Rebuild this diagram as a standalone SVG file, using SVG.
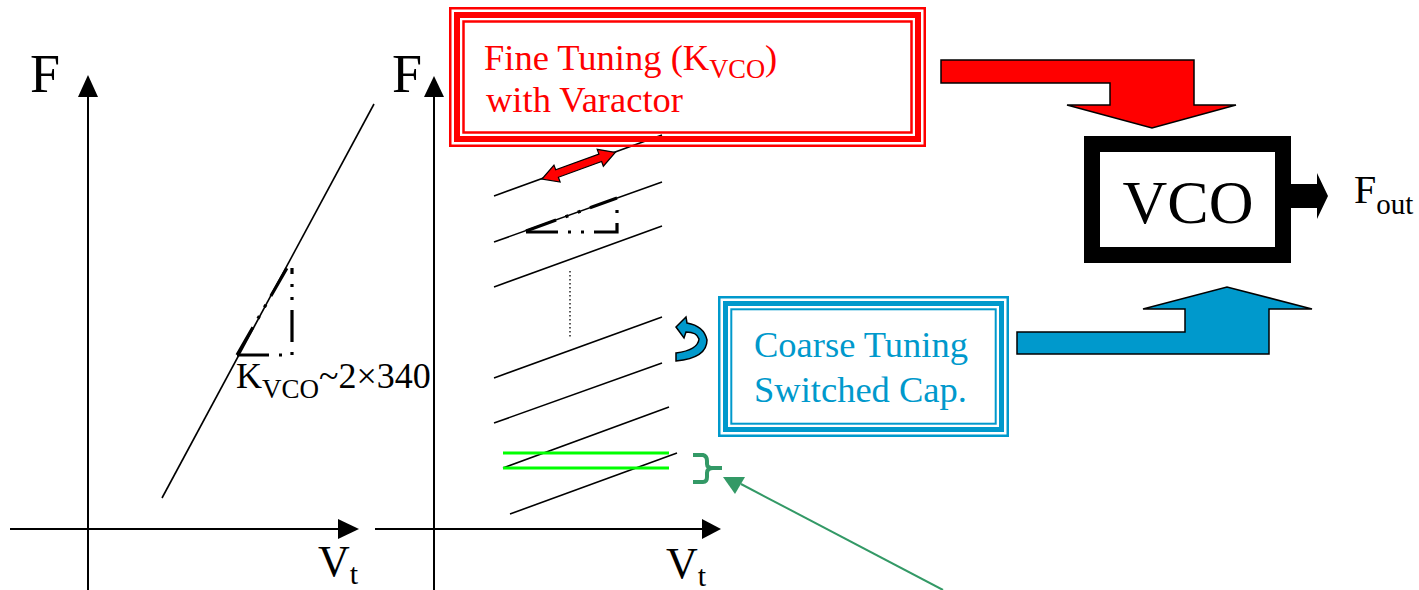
<svg xmlns="http://www.w3.org/2000/svg" width="1419" height="590" viewBox="0 0 1419 590">
<style>
  text { font-family: "Liberation Serif", "Times New Roman", serif; }
  .ax { stroke: #000; stroke-width: 2; fill: none; }
  .ln { stroke: #000; stroke-width: 1.6; fill: none; }
  .dd { stroke: #000; stroke-width: 3.2; fill: none; stroke-dasharray: 32 10 3 10 3 10; }
  .red { fill: none; stroke: #FF0000; }
  .blue { fill: none; stroke: #0099CC; }
  .rt { fill: #FF0000; font-size: 36.5px; }
  .bt { fill: #0099CC; font-size: 36.5px; }
</style>
<rect width="1419" height="590" fill="#fff"/>

<g id="graph-left">
  <line class="ax" x1="88" y1="96" x2="88" y2="590"/>
  <polygon points="88,75 78,97 98,97" fill="#000"/>
  <line class="ax" x1="10" y1="529" x2="340" y2="529"/>
  <polygon points="359,529 338,519 338,539" fill="#000"/>
  <text x="30" y="92" font-size="54">F</text>
  <text x="318" y="576" font-size="44">V<tspan font-size="30" dy="8">t</tspan></text>
  <line class="ln" x1="162" y1="498" x2="374" y2="104"/>
  <path class="dd" d="M237,355 L292,355 L292,268"/>
  <path class="dd" d="M237,355 L287,268"/>
  <text x="236" y="388" font-size="36">K<tspan font-size="27" dy="10">VCO</tspan><tspan dy="-10">~2×340</tspan></text>
</g>

<g id="graph-right">
  <line class="ax" x1="434" y1="96" x2="434" y2="590"/>
  <polygon points="434,76 424,97 444,97" fill="#000"/>
  <line class="ax" x1="375" y1="529" x2="702" y2="529"/>
  <polygon points="721,529 702,519 702,539" fill="#000"/>
  <text x="392" y="92" font-size="54">F</text>
  <text x="666" y="578" font-size="44">V<tspan font-size="30" dy="8">t</tspan></text>
  <line class="ln" x1="494" y1="196" x2="662" y2="135"/>
  <line class="ln" x1="494" y1="242" x2="662" y2="182"/>
  <line class="ln" x1="494" y1="287" x2="662" y2="226"/>
  <line x1="570" y1="271" x2="570" y2="338" stroke="#000" stroke-width="1.3" stroke-dasharray="1.5 2.5"/>
  <line class="ln" x1="494" y1="378" x2="662" y2="317"/>
  <line class="ln" x1="494" y1="423" x2="662" y2="363"/>
  <line class="ln" x1="503" y1="468" x2="669" y2="407"/>
  <line class="ln" x1="510" y1="514" x2="677" y2="453"/>
  <path class="dd" d="M526,232 L617,232 L617,200"/>
  <path class="dd" d="M526,231 L617,198"/>
  <line x1="503" y1="453" x2="669" y2="453" stroke="#00FF00" stroke-width="3"/>
  <line x1="503" y1="468" x2="669" y2="468" stroke="#00FF00" stroke-width="3"/>
</g>

<g id="fine-tuning">
  <rect class="red" x="450.25" y="8.25" width="474.5" height="137.5" stroke-width="2.5"/>
  <rect class="red" x="457" y="15" width="461" height="124" stroke-width="6"/>
  <rect class="red" x="463.5" y="21.5" width="448" height="111" stroke-width="2.5"/>
  <text class="rt" x="484" y="70">Fine Tuning (K<tspan font-size="26.5" dy="8">VCO</tspan><tspan dy="-8">)</tspan></text>
  <text class="rt" x="486" y="112">with Varactor</text>
</g>

<g id="coarse-tuning">
  <rect class="blue" x="719.25" y="297.25" width="288.5" height="138.5" stroke-width="2.5"/>
  <rect class="blue" x="725.5" y="303.5" width="276" height="126" stroke-width="5"/>
  <rect class="blue" x="731.3" y="309.3" width="264.4" height="114.4" stroke-width="2"/>
  <text class="bt" x="754" y="357">Coarse Tuning</text>
  <text class="bt" x="754" y="402">Switched Cap.</text>
</g>

<g id="vco">
  <rect x="1092" y="144" width="191" height="111" fill="#fff" stroke="#000" stroke-width="16"/>
  <text x="1188" y="223" font-size="62" text-anchor="middle">VCO</text>
</g>

<g id="fout">
  <text x="1354" y="203" font-size="40">F<tspan font-size="29" dy="11">out</tspan></text>
</g>

<g id="connectors">
  <polygon points="941,60 1194,60 1194,105 1236,105 1152,128 1067,105 1110,105 1110,83 941,83" fill="#FF0000" stroke="#000" stroke-width="1.5"/>
  <polygon points="1017,354 1017,332 1185,332 1185,309 1143,309 1227,287 1312,309 1269,309 1269,354" fill="#0099CC" stroke="#000" stroke-width="1.5"/>
  <polygon points="1291,184 1317,184 1317,173 1328,196 1317,219 1317,208 1291,208" fill="#000"/>
  <g transform="translate(542,179) rotate(-20)">
    <polygon points="0,0 16,-9 16,-4 62,-4 62,-9 78,0 62,9 62,4 16,4 16,9" fill="#FF0000" stroke="#000" stroke-width="1.2"/>
  </g>
  <path d="M676,327 L686,317 L687,323 Q704,326 707,340 Q707,358 676,361 L676,353 Q698,350 699,339 Q697,332 686,332 L684,338 Z" fill="#0099CC" stroke="#000" stroke-width="1.5"/>
  <path d="M693,455 L703,455 Q707,456 707,461 L707,464 Q707,468 713,468 L722,468 M713,468 Q707,468 707,473 L707,477 Q707,482 703,482 L693,482" fill="none" stroke="#339966" stroke-width="4"/>
  <line x1="943" y1="590" x2="741" y2="484" stroke="#339966" stroke-width="2"/>
  <polygon points="723,477 745,477 735,494" fill="#339966"/>
</g>
</svg>
